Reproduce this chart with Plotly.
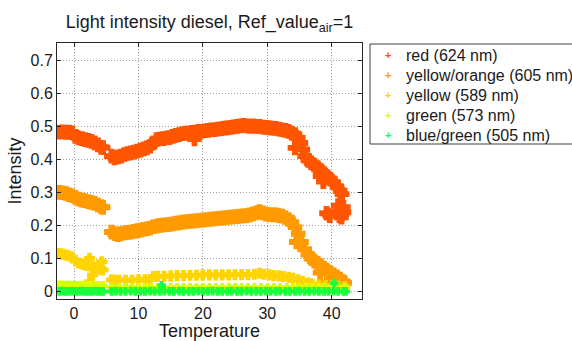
import plotly.graph_objects as go

# ---- measured light intensity vs. temperature (diesel, Ref_value_air = 1) ----

# red (624 nm)
red_t = [-2.3, -1.8, -1.3, -0.8, -0.3, 0.2, 0.7, 1.2, 1.7, 2.2, 2.7, 3.2, 3.7, 4.2, 4.5,
         5.8, 6.3, 6.8, 7.3, 7.8, 8.3, 8.8, 9.3, 9.8, 10.3, 10.8, 11.3, 11.8, 12.3, 12.8,
         13.3, 13.8, 14.3, 14.8, 15.3, 15.8, 16.3, 16.8, 17.3, 17.8, 18.3, 18.8, 19.3, 19.8,
         20.3, 20.8, 21.3, 21.8, 22.3, 22.8, 23.3, 23.8, 24.3, 24.8, 25.3, 25.8, 26.3, 26.8,
         27.3, 27.8, 28.3, 28.8, 29.3, 29.8, 30.3, 30.8, 31.3, 31.8, 32.3, 32.8, 33.3, 33.8,
         34.3, 34.8, 35.2, 35.5, 35.8, 36.3, 36.8, 37.3, 37.8, 38.3, 38.8, 39.3, 39.8, 40.3,
         40.8, 41.3, 41.6,
         41.0, 41.3, 41.6, 41.9, 41.5, 41.2, 41.8,
         34.3, 38.2, 38.7, 39.2, 39.7, 18.7]
red_v = [0.483, 0.484, 0.482, 0.483, 0.481, 0.470, 0.465, 0.463, 0.460, 0.458, 0.455, 0.450, 0.444, 0.437, 0.436,
         0.410, 0.405, 0.408, 0.410, 0.415, 0.418, 0.420, 0.422, 0.425, 0.428, 0.432, 0.435, 0.440, 0.450, 0.460,
         0.462, 0.463, 0.465, 0.466, 0.470, 0.473, 0.475, 0.478, 0.480, 0.480, 0.482, 0.483, 0.485, 0.485,
         0.487, 0.488, 0.490, 0.490, 0.492, 0.493, 0.495, 0.496, 0.497, 0.499, 0.500, 0.502, 0.503, 0.502,
         0.500, 0.502, 0.500, 0.500, 0.498, 0.497, 0.496, 0.495, 0.494, 0.492, 0.490, 0.488, 0.485, 0.480,
         0.475, 0.465, 0.450, 0.430, 0.410, 0.398, 0.390, 0.383, 0.375, 0.366, 0.357, 0.348, 0.340, 0.330,
         0.318, 0.305, 0.295,
         0.260, 0.245, 0.235, 0.240, 0.225, 0.230, 0.255,
         0.435, 0.350, 0.333, 0.237, 0.230, 0.462]

# yellow/orange (605 nm)
orange_t = [-2.3, -1.8, -1.3, -0.8, -0.3, 0.2, 0.7, 1.2, 1.7, 2.2, 2.7, 3.2, 3.7, 4.2, 4.5,
            5.8, 6.3, 6.8, 7.3, 7.8, 8.3, 8.8, 9.3, 9.8, 10.3, 10.8, 11.3, 11.8, 12.3, 12.8,
            13.3, 13.8, 14.3, 14.8, 15.3, 15.8, 16.3, 16.8, 17.3, 17.8, 18.3, 18.8, 19.3, 19.8,
            20.3, 20.8, 21.3, 21.8, 22.3, 22.8, 23.3, 23.8, 24.3, 24.8, 25.3, 25.8, 26.3, 26.8,
            27.3, 27.8, 28.3, 28.8, 29.3, 29.8, 30.3, 30.8, 31.3, 31.8, 32.3, 32.8, 33.3, 33.8,
            34.3, 34.8, 35.3, 35.8, 36.3, 36.8, 37.3, 37.8, 38.3, 38.8, 39.3, 39.8, 40.3, 40.8,
            41.3, 41.8, 42.0,
            34.5, 38.2, 39.2]
orange_v = [0.300, 0.299, 0.297, 0.293, 0.290, 0.285, 0.280, 0.277, 0.275, 0.272, 0.270, 0.267, 0.262, 0.257, 0.255,
            0.180, 0.175, 0.172, 0.175, 0.177, 0.179, 0.180, 0.182, 0.184, 0.186, 0.188, 0.190, 0.192, 0.196, 0.198,
            0.200, 0.201, 0.202, 0.203, 0.205, 0.207, 0.208, 0.210, 0.211, 0.212, 0.213, 0.214, 0.215, 0.216,
            0.217, 0.218, 0.219, 0.220, 0.221, 0.222, 0.223, 0.224, 0.225, 0.226, 0.227, 0.228, 0.229, 0.230,
            0.232, 0.235, 0.238, 0.242, 0.238, 0.234, 0.233, 0.232, 0.232, 0.230, 0.228, 0.224, 0.218, 0.210,
            0.195, 0.175, 0.150, 0.128, 0.112, 0.100, 0.092, 0.085, 0.078, 0.070, 0.063, 0.056, 0.050, 0.044,
            0.037, 0.030, 0.026,
            0.150, 0.057, 0.026]

# yellow (589 nm)
yellow_t = [-2.3, -1.8, -1.3, -0.8, -0.3, 0.2, 0.7, 1.2, 1.7, 2.2, 2.7, 3.2, 3.7, 4.2, 4.5,
            5.8, 6.3, 7.0, 8.0, 9.0, 10.0, 11.0, 11.8, 12.3, 13.0, 14.0, 15.0, 16.0, 17.0,
            18.0, 19.0, 20.0, 21.0, 22.0, 23.0, 24.0, 25.0, 26.0, 27.0, 28.0, 28.8, 29.5,
            30.3, 31.0, 31.8, 32.5, 33.3, 34.0, 34.8, 35.5, 36.3, 37.0, 38.0, 39.0, 40.0,
            41.0, 42.0,
            2.4, 2.9, 4.3, 2.4]
yellow_v = [0.115, 0.113, 0.110, 0.108, 0.104, 0.092, 0.086, 0.083, 0.080, 0.078, 0.076, 0.073, 0.070, 0.066, 0.065,
            0.035, 0.034, 0.034, 0.034, 0.034, 0.035, 0.035, 0.036, 0.045, 0.046, 0.046, 0.047, 0.048, 0.048,
            0.049, 0.049, 0.050, 0.050, 0.050, 0.050, 0.050, 0.051, 0.051, 0.051, 0.052, 0.055, 0.052,
            0.050, 0.048, 0.047, 0.045, 0.043, 0.040, 0.035, 0.030, 0.025, 0.022, 0.020, 0.018, 0.017,
            0.016, 0.015,
            0.100, 0.050, 0.090, 0.030]

# green (573 nm)
green_t = [-2.3, -1.8, -1.3, -0.8, -0.3, 0.2, 0.7, 1.2, 1.7, 2.2, 2.7, 3.2, 3.7, 4.2, 4.5,
           5.8, 7.0, 8.0, 9.0, 10.0, 11.0, 12.0, 13.0, 14.0, 15.0, 16.0, 17.0, 18.0, 19.0,
           20.0, 21.0, 22.0, 23.0, 24.0, 25.0, 26.0, 27.0, 28.0, 29.0, 30.0, 31.0, 32.0,
           33.0, 34.0, 35.0, 36.0, 37.0, 38.0, 39.0, 40.0, 41.0, 42.0]
green_v = [0.020, 0.020, 0.019, 0.020, 0.019, 0.019, 0.018, 0.019, 0.018, 0.018, 0.019, 0.018, 0.018, 0.017, 0.018,
           0.012, 0.012, 0.012, 0.012, 0.012, 0.012, 0.013, 0.012, 0.012, 0.013, 0.012, 0.012, 0.012, 0.012,
           0.013, 0.012, 0.012, 0.012, 0.013, 0.012, 0.012, 0.012, 0.013, 0.012, 0.012, 0.012, 0.012,
           0.012, 0.012, 0.012, 0.013, 0.012, 0.012, 0.012, 0.012, 0.012, 0.012]

# blue/green (505 nm)
bluegreen_t = [-2.3, -1.8, -1.3, -0.8, -0.3, 0.2, 0.7, 1.2, 1.7, 2.2, 2.7, 3.2, 3.7, 4.2, 4.5,
               5.8, 6.5, 7.2, 8.0, 8.8, 9.5, 10.3, 11.0, 11.8, 12.5, 13.3, 14.0, 14.8, 15.5,
               16.3, 17.0, 17.8, 18.5, 19.3, 20.0, 20.8, 21.5, 22.3, 23.0, 23.8, 24.5, 25.3,
               26.0, 26.8, 27.5, 28.3, 29.0, 29.8, 30.5, 31.3, 32.0, 32.8, 33.5, 34.3, 35.0,
               35.8, 36.5, 37.3, 38.0, 38.8, 39.5, 40.3, 41.0, 41.8, 42.2,
               13.6, 40.4]
bluegreen_v = [0.000, 0.001, 0.000, 0.000, 0.001, 0.000, 0.000, 0.001, 0.000, 0.000, 0.000, 0.001, 0.000, 0.000, 0.000,
               0.000, 0.001, 0.000, 0.000, 0.001, 0.000, 0.000, 0.000, 0.001, 0.000, 0.000, 0.001, 0.000, 0.000,
               0.001, 0.000, 0.000, 0.000, 0.001, 0.000, 0.000, 0.001, 0.000, 0.000, 0.000, 0.001, 0.000,
               0.000, 0.001, 0.000, 0.000, 0.000, 0.001, 0.000, 0.000, 0.001, 0.000, 0.000, 0.000, 0.001,
               0.000, 0.000, 0.001, 0.000, 0.000, 0.000, 0.001, 0.000, 0.000, 0.000,
               0.018, 0.025]

series_names = ["red (624 nm)", "yellow/orange (605 nm)", "yellow (589 nm)",
                "green (573 nm)", "blue/green (505 nm)"]
series_t = [red_t, orange_t, yellow_t, green_t, bluegreen_t]
series_v = [red_v, orange_v, yellow_v, green_v, bluegreen_v]
colors = ["#ff5500", "#ff9a00", "#ffd400", "#d8ff00", "#1aff3c"]
marker_sizes = [11, 11, 8, 6, 6]

FONT = "Liberation Sans, Arial, sans-serif"
W, H = 572, 341
ML, MR, MT, MB = 57, 210, 43, 42
PW, PH = W - ML - MR, H - MT - MB


def px_to_paper_x(px):
    return (px - ML) / PW


def px_to_paper_y(py):
    return (H - MB - py) / PH


fig = go.Figure()
for name, t, v, color, size in zip(series_names, series_t, series_v, colors, marker_sizes):
    fig.add_trace(go.Scatter(
        x=t, y=v, mode="markers", name=name, showlegend=False,
        marker=dict(symbol="cross", size=size, color=color, line=dict(width=1.5, color=color)),
    ))

axis_common = dict(
    showline=True, linecolor="#262626", linewidth=1, mirror="ticks",
    ticks="inside", ticklen=4, tickcolor="#262626",
    showgrid=True, gridcolor="#a0a0a0", griddash="1px,2px", gridwidth=1,
    zeroline=False, tickfont=dict(family=FONT, size=16, color="#1a1a1a"),
)

# legend box (runs past the right edge of the figure)
shapes = [dict(type="rect", xref="paper", yref="paper",
               x0=px_to_paper_x(370), x1=px_to_paper_x(585),
               y0=px_to_paper_y(144), y1=px_to_paper_y(44),
               line=dict(color="#404040", width=1), fillcolor="white", layer="above")]

annotations = []
for i, (name, color) in enumerate(zip(series_names, colors)):
    row_y = px_to_paper_y(55 + 20 * i)
    annotations.append(dict(text="<b>+</b>", x=px_to_paper_x(388), y=row_y,
                            xref="paper", yref="paper", xanchor="center", yanchor="middle",
                            showarrow=False, font=dict(family=FONT, size=11, color=color)))
    annotations.append(dict(text=name, x=px_to_paper_x(404), y=row_y,
                            xref="paper", yref="paper", xanchor="left", yanchor="middle",
                            showarrow=False, font=dict(family=FONT, size=16, color="#1a1a1a")))

fig.update_layout(
    width=W, height=H,
    margin=dict(l=ML, r=MR, t=MT, b=MB, autoexpand=False),
    paper_bgcolor="white", plot_bgcolor="white",
    font=dict(family=FONT, color="#1a1a1a"),
    title=dict(text="Light intensity diesel, Ref_value<sub>air</sub>=1",
               x=0.5, xref="paper", xanchor="center",
               y=1 - 22 / H, yref="container", yanchor="middle",
               font=dict(family=FONT, size=18, color="#1a1a1a")),
    xaxis=dict(axis_common, range=[-2.65, 44.7], tickvals=[0, 10, 20, 30, 40],
               title=dict(text="Temperature", font=dict(family=FONT, size=18), standoff=3)),
    yaxis=dict(axis_common, range=[-0.023, 0.753],
               tickvals=[0, 0.1, 0.2, 0.3, 0.4, 0.5, 0.6, 0.7],
               ticktext=["0", "0.1", "0.2", "0.3", "0.4", "0.5", "0.6", "0.7"],
               title=dict(text="Intensity", font=dict(family=FONT, size=18), standoff=4)),
    shapes=shapes,
    annotations=annotations,
    showlegend=False,
)

fig.write_html("out.html")
